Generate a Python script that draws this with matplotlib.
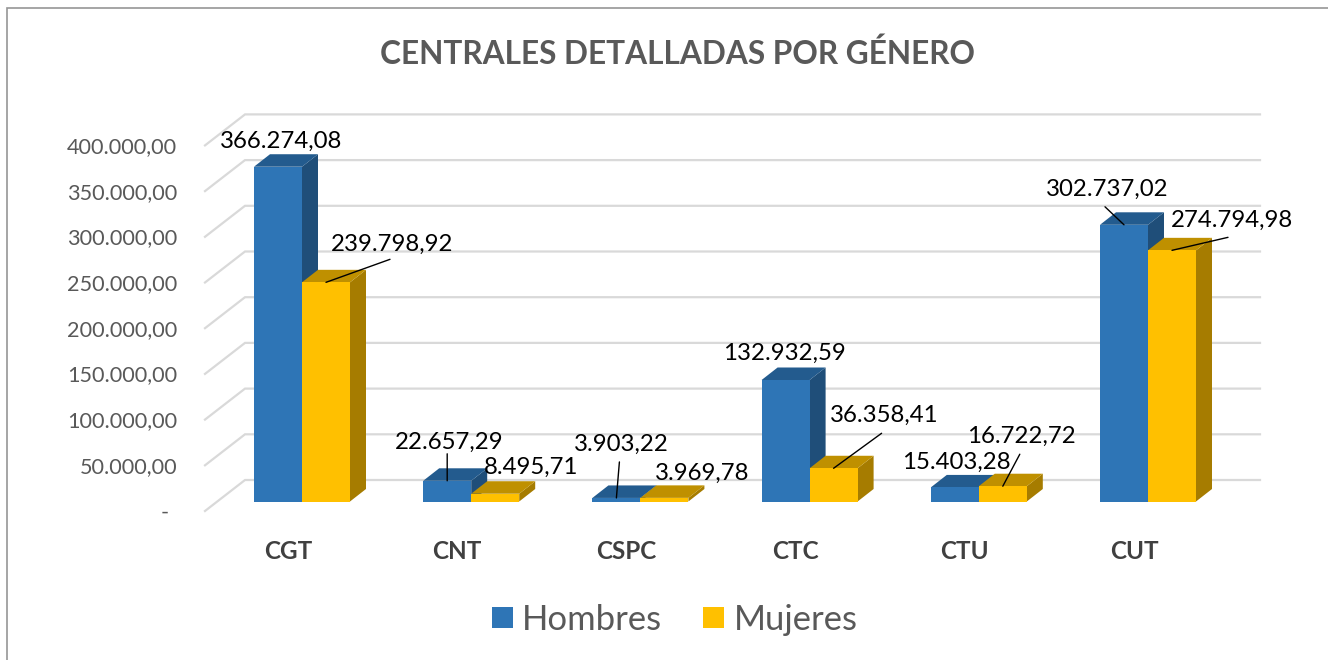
#!/usr/bin/env python3
# Column chart with fake 3D look (Excel style)
import matplotlib
matplotlib.use('Agg')
import matplotlib.pyplot as plt
from matplotlib.patches import Rectangle

plt.rcParams['font.family'] = ['Lato', 'DejaVu Sans']

# Data
categories = ['CGT', 'CNT', 'CSPC', 'CTC', 'CTU', 'CUT']
hombres = [366274.08, 22657.29, 3903.22, 132932.59, 15403.28, 302737.02]
mujeres = [239798.92, 8495.71, 3969.78, 36358.41, 16722.72, 274794.98]
tick_values = [0, 50000, 100000, 150000, 200000, 250000, 300000, 350000, 400000]
tick_labels = ['-', '50.000,00', '100.000,00', '150.000,00', '200.000,00',
               '250.000,00', '300.000,00', '350.000,00', '400.000,00']
title = 'CENTRALES DETALLADAS POR GÉNERO'
legend_names = ['Hombres', 'Mujeres']

# Layout in pixels
W, H = 1328, 660
base_px = 501.5      # bar foot
px_per_unit = 0.000914
cat0_px = 302.0      # boundary between the two bars of first category
cat_step = 169.2
bar_w = 48.0 / cat_step
depth_x = 16.0 / cat_step
depth_y = 12.5 / px_per_unit
wall_x = 40.0 / cat_step
wall_front = -9.5 / px_per_unit
wall_back = 21.5 / px_per_unit

fig = plt.figure(figsize=(W / 100, H / 100), dpi=100, facecolor='white')
ax = fig.add_axes([0, 0, 1, 1])
ax.set_xlim(-cat0_px / cat_step, (W - cat0_px) / cat_step)
ax.set_ylim((base_px - H) / px_per_unit, base_px / px_per_unit)
ax.axis('off')

# Outer frame (only left and top edges show)
frame = Rectangle((7 / W, -0.02), 1.5, 1.02 - 7.5 / H, transform=ax.transAxes,
                  fill=False, edgecolor='#969696', linewidth=1.2)
ax.add_patch(frame)

# Walls and gridlines
grid_color = '#d9d9d9'
left_x = -(cat0_px - 205) / cat_step
right_x = (1260 - cat0_px) / cat_step
for v in tick_values:
    ax.plot([left_x, left_x + wall_x, right_x], [v + wall_front, v + wall_back, v + wall_back],
            color=grid_color, linewidth=1.6, solid_joinstyle='miter', zorder=1)


def draw_bar(x0, value, front, top, side):
    x1 = x0 + bar_w
    ax.fill([x1, x1 + depth_x, x1 + depth_x, x1], [0, depth_y, value + depth_y, value],
            color=side, linewidth=0, zorder=2)
    ax.fill([x0, x0 + depth_x, x1 + depth_x, x1],
            [value, value + depth_y, value + depth_y, value],
            color=top, linewidth=0, zorder=2)
    ax.bar(x0, value, width=bar_w, align='edge', color=front, linewidth=0, zorder=2)


for i in range(len(categories)):
    draw_bar(i - bar_w, hombres[i], '#2e75b6', '#235b8e', '#1f4e79')
    draw_bar(i, mujeres[i], '#ffc000', '#bf9000', '#a67c00')

# Data labels, offsets from the top centre of each bar: (dx, dy, leader dx, leader dy)
h_offsets = [(3, 25, None, None), (2, 38, 0, 27), (5, 54, 3, 36),
             (-1, 27, None, None), (2, 25, None, None), (-17, 35, -19, 18)]
m_offsets = [(66, 38, 64, 23), (36, 26, None, None), (38, 25, None, None),
             (51, 53, 48, 35), (19, 50, 17, 32), (60, 30, 56, 13)]


def es_format(v):
    return '{:,.2f}'.format(v).replace(',', 'X').replace('.', ',').replace('X', '.')


def draw_label(x, value, off):
    dx, dy, lx, ly = off
    if lx is not None:
        ax.annotate('', xy=(x, value), xytext=(lx, ly), textcoords='offset pixels',
                    arrowprops=dict(arrowstyle='-', color='black', linewidth=1.0,
                                    shrinkA=0, shrinkB=0), zorder=5)
    ax.annotate(es_format(value), xy=(x, value), xytext=(dx, dy), textcoords='offset pixels',
                ha='center', va='center', fontsize=17.3, color='black', zorder=6)


for i in range(len(categories)):
    draw_label(i - bar_w / 2, hombres[i], h_offsets[i])
    draw_label(i + bar_w / 2, mujeres[i], m_offsets[i])

# Value axis labels
for v, lab in zip(tick_values, tick_labels):
    x_txt = left_x - 28 / cat_step
    if lab == '-':
        x_txt = left_x - 36 / cat_step
    ax.text(x_txt, v + wall_front - 1.5 / px_per_unit, lab, ha='right', va='center',
            fontsize=15.6, color='#595959')

# Category labels
for i, cat in enumerate(categories):
    ax.text(i - 14 / cat_step, (base_px - 551.5) / px_per_unit, cat, ha='center', va='center',
            fontsize=17.5, fontweight='bold', color='#404040')

ax.text(677 / W, 1 - 54 / H, title, transform=ax.transAxes, ha='center', va='center',
        fontsize=22.8, fontweight='bold', color='#595959')

# Legend
for name, color, sq_x, txt_x in zip(legend_names, ['#2e75b6', '#ffc000'], [492, 703], [522, 734]):
    ax.add_patch(Rectangle((sq_x / W, 1 - 628 / H), 21 / W, 21 / H, transform=ax.transAxes,
                           facecolor=color, edgecolor='none'))
    ax.text(txt_x / W, 1 - 620 / H, name, transform=ax.transAxes, ha='left', va='center',
            fontsize=24.9, color='#595959')

fig.savefig('out.png', dpi=100)
